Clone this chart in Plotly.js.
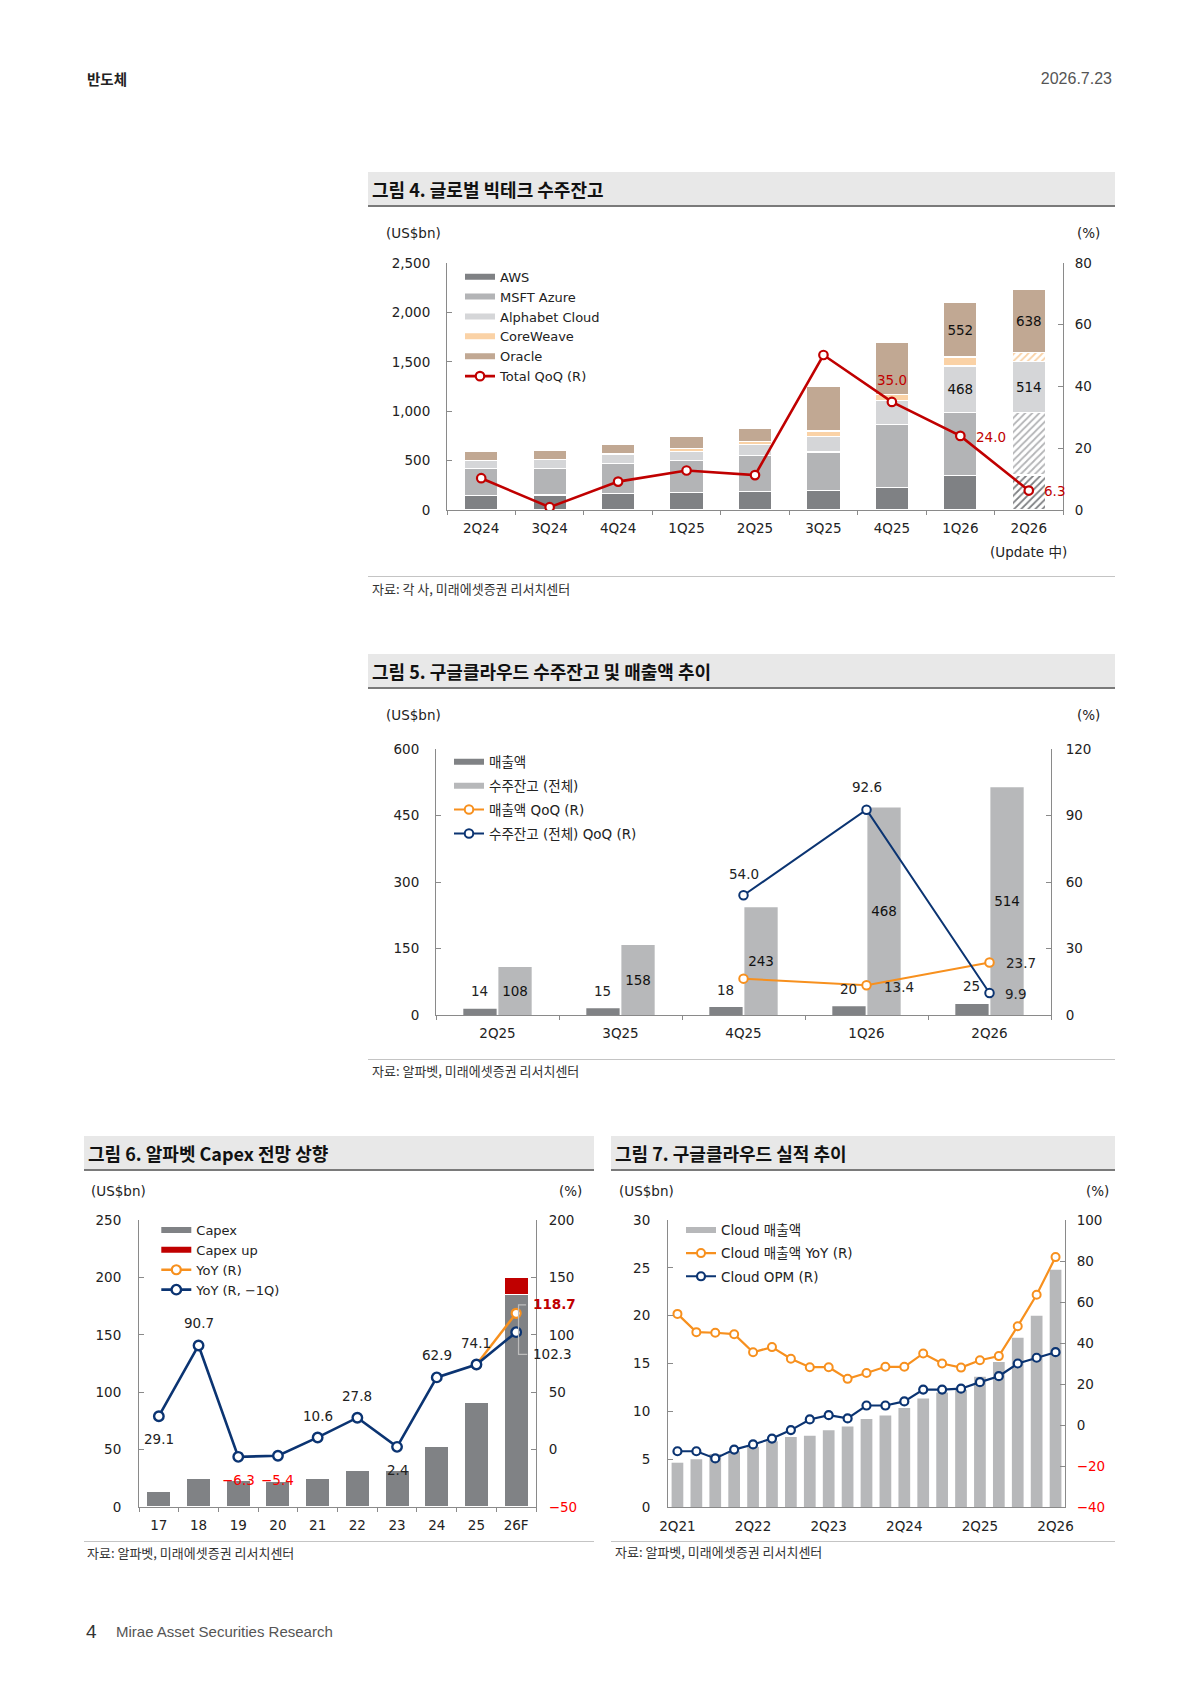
<!DOCTYPE html>
<html>
<head>
<meta charset="utf-8">
<script src="https://cdn.plot.ly/plotly-3.0.1.min.js"></script>
<style>
html,body{margin:0;padding:0;background:#fff;}
body{width:1200px;height:1696px;position:relative;overflow:hidden;font-family:"Noto Sans CJK KR",sans-serif;}
.t{position:absolute;line-height:1;white-space:nowrap;transform:translateY(-50%);}
.tbar{position:absolute;background:#e8e8e8;border-bottom:2px solid #7a7a7a;box-sizing:border-box;height:35px;}
.tbar span{position:absolute;left:4px;top:50%;transform:translateY(-50%);font-weight:700;font-size:18px;color:#111;line-height:1;white-space:nowrap;}
.sline{position:absolute;height:0;border-top:1.5px solid #c4c4c4;}
.src{font-size:13px;color:#333;}
.unit{font-family:"DejaVu Sans","Noto Sans CJK KR",sans-serif;font-size:13.5px;color:#222;}
.chart{position:absolute;}
</style>
</head>
<body>
<div class="t" style="left:87px;top:79px;font-size:14.5px;font-weight:700;color:#222;">반도체</div>
<div class="t" style="right:88px;top:79px;font-family:'Liberation Sans',sans-serif;font-size:16px;color:#555;">2026.7.23</div>

<div class="tbar" style="left:368px;top:172px;width:747px;"><span>그림 4. 글로벌 빅테크 수주잔고</span></div>
<div class="t unit" style="left:386px;top:234px;">(US$bn)</div>
<div class="t unit" style="left:1077px;top:234px;">(%)</div>
<div id="c4" class="chart" style="left:368px;top:207px;width:747px;height:369px;"></div>
<div class="sline" style="left:368px;top:576px;width:747px;"></div>
<div class="t src" style="left:372px;top:588px;">자료: 각 사, 미래에셋증권 리서치센터</div>

<div class="tbar" style="left:368px;top:654px;width:747px;"><span>그림 5. 구글클라우드 수주잔고 및 매출액 추이</span></div>
<div class="t unit" style="left:386px;top:716px;">(US$bn)</div>
<div class="t unit" style="left:1077px;top:716px;">(%)</div>
<div id="c5" class="chart" style="left:368px;top:689px;width:747px;height:370px;"></div>
<div class="sline" style="left:368px;top:1059px;width:747px;"></div>
<div class="t src" style="left:372px;top:1070px;">자료: 알파벳, 미래에셋증권 리서치센터</div>

<div class="tbar" style="left:84px;top:1136px;width:510px;"><span>그림 6. 알파벳 Capex 전망 상향</span></div>
<div class="t unit" style="left:91px;top:1192px;">(US$bn)</div>
<div class="t unit" style="left:559px;top:1192px;">(%)</div>
<div id="c6" class="chart" style="left:84px;top:1171px;width:510px;height:370px;"></div>
<div class="sline" style="left:84px;top:1541px;width:510px;"></div>
<div class="t src" style="left:87px;top:1552px;">자료: 알파벳, 미래에셋증권 리서치센터</div>

<div class="tbar" style="left:611px;top:1136px;width:504px;"><span>그림 7. 구글클라우드 실적 추이</span></div>
<div class="t unit" style="left:619px;top:1192px;">(US$bn)</div>
<div class="t unit" style="left:1086px;top:1192px;">(%)</div>
<div id="c7" class="chart" style="left:611px;top:1171px;width:504px;height:370px;"></div>
<div class="sline" style="left:611px;top:1541px;width:504px;"></div>
<div class="t src" style="left:615px;top:1551px;">자료: 알파벳, 미래에셋증권 리서치센터</div>

<div class="t" style="left:86px;top:1631px;font-family:'Liberation Sans',sans-serif;font-size:19px;color:#333;">4</div>
<div class="t" style="left:116px;top:1631px;font-family:'Liberation Sans',sans-serif;font-size:15px;color:#555;">Mirae Asset Securities Research</div>

<script>
// ---------- Chart 4 data ----------
const c4Cats = ['2Q24','3Q24','4Q24','1Q25','2Q25','3Q25','4Q25','1Q26','2Q26'];
const c4Note = '(Update 中)';
const c4AWS = [146,153,167,180,190,197,231,350,355];
const c4MSFT = [272,265,302,320,364,391,636,640,635];
const c4Alphabet = [85,92,99,95,108,158,243,468,514];
const c4CoreWeave = [0,0,0,24,30,55,60,90,90];
const c4Oracle = [92,95,95,129,138,455,523,552,638];
const c4QoQ = [10.3,0.9,9.2,12.8,11.3,50.2,35.0,24.0,6.3];
const c4EstimateCat = '2Q26';
const c4LeftTicks = [0,500,1000,1500,2000,2500];
const c4RightTicks = [0,20,40,60,80];

// ---------- Chart 5 data ----------
const c5Cats = ['2Q25','3Q25','4Q25','1Q26','2Q26'];
const c5Revenue = [14,15,18,20,25];
const c5Backlog = [108,158,243,468,514];
const c5RevQoQ = [null,null,16.4,13.4,23.7];
const c5BacklogQoQ = [null,null,54.0,92.6,9.9];
const c5LeftTicks = [0,150,300,450,600];
const c5RightTicks = [0,30,60,90,120];

// ---------- Chart 6 data ----------
const c6Years = ['17','18','19','20','21','22','23','24','25','26F'];
const c6Capex = [13.2,25.1,23.5,22.3,24.6,31.5,32.3,52.5,91.4,185.0];
const c6CapexUp = [null,null,null,null,null,null,null,null,null,15.0];
const c6YoY = [null,null,null,null,null,null,null,null,74.1,118.7];
const c6YoYLag = [29.1,90.7,-6.3,-5.4,10.6,27.8,2.4,62.9,74.1,102.3];
const c6LeftTicks = [0,50,100,150,200,250];
const c6RightTicks = [-50,0,50,100,150,200];

// ---------- Chart 7 data ----------
const c7Quarters = ['2Q21','3Q21','4Q21','1Q22','2Q22','3Q22','4Q22','1Q23','2Q23','3Q23','4Q23','1Q24','2Q24','3Q24','4Q24','1Q25','2Q25','3Q25','4Q25','1Q26','2Q26'];
const c7TickQuarters = ['2Q21','2Q22','2Q23','2Q24','2Q25','2Q26'];
const c7Revenue = [4.63,4.99,5.54,5.82,6.28,6.87,7.32,7.45,8.03,8.41,9.19,9.57,10.35,11.35,11.96,12.26,13.62,15.16,17.7,20.0,24.8];
const c7YoY = [54.2,45.3,45.0,44.3,35.5,38.0,32.3,28.2,28.2,22.5,25.4,28.4,28.4,34.9,30.0,28.0,31.6,33.6,48.2,63.5,81.9];
const c7OPM = [-12.8,-12.8,-16.3,-12.0,-9.5,-6.6,-2.5,2.7,4.8,3.2,9.5,9.5,11.5,17.3,17.3,17.7,20.9,23.8,30.0,32.8,35.5];
const c7LeftTicks = [0,5,10,15,20,25,30];
const c7RightTicks = [-40,-20,0,20,40,60,80,100];

// ---------- helpers ----------
const FONT = '"DejaVu Sans", "Noto Sans CJK KR", sans-serif';
const AX = '#8a8a8a';
const TXT = '#222';
const ORANGE = '#f7901e';
const NAVY = '#0b3472';
const MINUS = '\u2212';
const fmt1 = v => (v < 0 ? MINUS : '') + Math.abs(v).toFixed(1);
const redTicks = vals => vals.map(v => v < 0 ? '<span style="color:#ff0000">' + MINUS + Math.abs(v) + '</span>' : String(v));
const catRange = cats => [-0.5, cats.length - 0.5];

function axis(extra) {
  return Object.assign({showgrid:false, zeroline:false, showline:true, linecolor:AX, linewidth:1,
    tickcolor:AX, tickfont:{family:FONT, size:13.5, color:TXT}, fixedrange:true}, extra);
}
function legendAt(px, py, W, H, extra) {
  return Object.assign({xref:'container', yref:'container', x:px/W, y:1-py/H, xanchor:'left', yanchor:'top',
    bgcolor:'rgba(0,0,0,0)', borderwidth:0, font:{family:FONT, size:13, color:TXT}, itemclick:false, itemdoubleclick:false}, extra);
}
function legendBar(name, color, rank, grp) {
  const t = {type:'scatter', x:[null], y:[null], mode:'lines', line:{color:color, width:6}, name:name, legendrank:rank, hoverinfo:'skip'};
  if (grp) t.legendgroup = grp;
  return t;
}
function lab(x, y, text, yref, o) {
  return Object.assign({x:x, y:y, xref:'x', yref:yref, text:text, showarrow:false,
    font:{family:FONT, size:13.5, color:TXT}}, o || {});
}
const cfg = {staticPlot:true, displayModeBar:false};

// ---------- Chart 4 ----------
(function(){
  const W = 747, H = 369;
  const series = [
    {name:'AWS', vals:c4AWS, color:'#7f8184', est:true},
    {name:'MSFT Azure', vals:c4MSFT, color:'#b3b4b6', est:true},
    {name:'Alphabet Cloud', vals:c4Alphabet, color:'#d5d6d8', est:false, label:true},
    {name:'CoreWeave', vals:c4CoreWeave, color:'#fad2a6', est:true},
    {name:'Oracle', vals:c4Oracle, color:'#c1a893', est:false, label:true}
  ];
  const traces = [];
  series.forEach(s => {
    traces.push({type:'bar', x:c4Cats, y:s.vals, showlegend:false, hoverinfo:'skip',
      marker:{color:s.color, line:{color:'#ffffff', width:1.3},
        pattern:{shape:c4Cats.map(c => (s.est && c === c4EstimateCat) ? '/' : ''), fgcolor:s.color, size:5, solidity:0.35}},
      text: s.label ? s.vals.map((v,i) => i >= 7 ? String(v) : '') : null,
      textposition: s.label ? 'inside' : 'none', insidetextanchor:'middle', textangle:0, constraintext:'none',
      insidetextfont:{family:FONT, size:13.5, color:'#111'}});
  });
  series.forEach((s,i) => traces.push(legendBar(s.name, s.color, i+1)));
  traces.push({type:'scatter', x:c4Cats, y:c4QoQ, yaxis:'y2', mode:'lines+markers', name:'Total QoQ (R)', legendrank:6,
    line:{color:'#c00000', width:2.6}, marker:{size:8.5, color:'#ffffff', line:{color:'#c00000', width:2.2}}, hoverinfo:'skip'});
  const red = {family:FONT, size:13.5, color:'#c00000'};
  const ann = [
    lab(6, c4QoQ[6], fmt1(c4QoQ[6]), 'y2', {yshift:22, font:red}),
    lab(7, c4QoQ[7], fmt1(c4QoQ[7]), 'y2', {xanchor:'left', xshift:14, yshift:-1, font:red}),
    lab(8, c4QoQ[8], fmt1(c4QoQ[8]), 'y2', {xanchor:'left', xshift:13, yshift:0, font:red}),
    {x:8, xref:'x', y:0, yref:'paper', yanchor:'middle', yshift:-42, text:c4Note, showarrow:false, font:{family:FONT, size:13.5, color:TXT}}
  ];
  const layout = {width:W, height:H, margin:{l:79, r:52, t:56, b:66, pad:0, autoexpand:false},
    paper_bgcolor:'rgba(0,0,0,0)', plot_bgcolor:'rgba(0,0,0,0)', barmode:'stack', bargap:0.51,
    showlegend:true, legend:legendAt(92, 54.7, W, H, {traceorder:'normal'}),
    xaxis:axis({type:'category', categoryorder:'array', categoryarray:c4Cats, range:catRange(c4Cats), tickmode:'array', tickvals:c4Cats,
      tickangle:0, ticks:'outside', ticklen:4, tickson:'boundaries', ticklabelstandoff:6}),
    yaxis:axis({range:[0,2500], tickmode:'array', tickvals:c4LeftTicks, tickformat:',d', ticks:'inside', ticklen:5, ticklabelstandoff:13}),
    yaxis2:axis({overlaying:'y', side:'right', range:[0,80], tickmode:'array', tickvals:c4RightTicks, ticks:'inside', ticklen:5, ticklabelstandoff:8}),
    annotations:ann};
  Plotly.newPlot('c4', traces, layout, cfg);
})();

// ---------- Chart 5 ----------
(function(){
  const W = 747, H = 370;
  const dark = '#808285', light = '#b7b8ba';
  const traces = [
    {type:'bar', x:c5Cats, y:c5Revenue, showlegend:false, hoverinfo:'skip', marker:{color:dark}},
    {type:'bar', x:c5Cats, y:c5Backlog, showlegend:false, hoverinfo:'skip', marker:{color:light},
      text:c5Backlog.map(String), textposition:'inside', insidetextanchor:'middle', textangle:0, constraintext:'none',
      insidetextfont:{family:FONT, size:13.5, color:'#111'}},
    legendBar('매출액', dark, 1, 'g1'),
    legendBar('수주잔고 (전체)', light, 2, 'g2'),
    {type:'scatter', x:c5Cats, y:c5RevQoQ, yaxis:'y2', mode:'lines+markers', name:'매출액 QoQ (R)', legendrank:3, legendgroup:'g3',
      line:{color:ORANGE, width:2}, marker:{size:8.5, color:'#fff', line:{color:ORANGE, width:2}}, hoverinfo:'skip'},
    {type:'scatter', x:c5Cats, y:c5BacklogQoQ, yaxis:'y2', mode:'lines+markers', name:'수주잔고 (전체) QoQ (R)', legendrank:4, legendgroup:'g4',
      line:{color:NAVY, width:2}, marker:{size:8.5, color:'#fff', line:{color:NAVY, width:2}}, hoverinfo:'skip'}
  ];
  const ann = [];
  c5Revenue.forEach((v,i) => ann.push(lab(i, v, String(v), 'y', {xshift:-17.6, yshift:17.5})));
  ann.push(lab(2, c5BacklogQoQ[2], fmt1(c5BacklogQoQ[2]), 'y2', {yshift:21.6}));
  ann.push(lab(3, c5BacklogQoQ[3], fmt1(c5BacklogQoQ[3]), 'y2', {yshift:22.7}));
  ann.push(lab(4, c5BacklogQoQ[4], fmt1(c5BacklogQoQ[4]), 'y2', {xanchor:'left', xshift:13, yshift:-1}));
  ann.push(lab(3, c5RevQoQ[3], fmt1(c5RevQoQ[3]), 'y2', {xanchor:'left', xshift:15, yshift:-2}));
  ann.push(lab(4, c5RevQoQ[4], fmt1(c5RevQoQ[4]), 'y2', {xanchor:'left', xshift:14, yshift:-1}));
  const layout = {width:W, height:H, margin:{l:68, r:64, t:60.3, b:43.7, pad:0, autoexpand:false},
    paper_bgcolor:'rgba(0,0,0,0)', plot_bgcolor:'rgba(0,0,0,0)', barmode:'group', bargap:0.43, bargroupgap:0.05,
    showlegend:true, legend:legendAt(81, 57.4, W, H, {traceorder:'grouped', tracegroupgap:3.4, font:{family:FONT, size:13.5, color:TXT}}),
    xaxis:axis({type:'category', categoryorder:'array', categoryarray:c5Cats, range:catRange(c5Cats), tickmode:'array', tickvals:c5Cats,
      tickangle:0, ticks:'outside', ticklen:4, tickson:'boundaries', ticklabelstandoff:6}),
    yaxis:axis({range:[0,600], tickmode:'array', tickvals:c5LeftTicks, ticks:'inside', ticklen:5, ticklabelstandoff:13}),
    yaxis2:axis({overlaying:'y', side:'right', range:[0,120], tickmode:'array', tickvals:c5RightTicks, ticks:'inside', ticklen:5, ticklabelstandoff:11}),
    annotations:ann};
  Plotly.newPlot('c5', traces, layout, cfg);
})();

// ---------- Chart 6 ----------
(function(){
  const W = 510, H = 370;
  const gray = '#808285', red = '#c00000';
  const traces = [
    {type:'bar', x:c6Years, y:c6Capex, showlegend:false, hoverinfo:'skip', marker:{color:gray, line:{color:'#fff', width:1.2}}},
    {type:'bar', x:c6Years, y:c6CapexUp, showlegend:false, hoverinfo:'skip', marker:{color:red, line:{color:'#fff', width:1.2}}},
    legendBar('Capex', gray, 1),
    legendBar('Capex up', red, 2),
    {type:'scatter', x:c6Years, y:c6YoY, yaxis:'y2', mode:'lines+markers', name:'YoY (R)', legendrank:3,
      line:{color:ORANGE, width:2.4}, marker:{size:9, color:'#fff', line:{color:ORANGE, width:2.2}}, hoverinfo:'skip'},
    {type:'scatter', x:c6Years, y:c6YoYLag, yaxis:'y2', mode:'lines+markers', name:'YoY (R, ' + MINUS + '1Q)', legendrank:4,
      line:{color:NAVY, width:2.6}, marker:{size:9.5, color:'#fff', line:{color:NAVY, width:2.4}}, hoverinfo:'skip'}
  ];
  const pos = [
    {yshift:-23.3}, {yshift:22}, {yshift:-23.4}, {yshift:-24.4}, {yshift:21},
    {yshift:21.8}, {yshift:-23.4}, {yshift:22.3}, {yshift:22}, {xanchor:'left', xshift:14.5, yshift:-22}
  ];
  const ann = c6YoYLag.map((v,i) => {
    const p = pos[i];
    const o = {yshift:p.yshift};
    if (p.xanchor) { o.xanchor = p.xanchor; o.xshift = p.xshift; }
    if (v < 0) o.font = {family:FONT, size:13.5, color:'#ff0000'};
    return lab(i, v, fmt1(v), 'y2', o);
  });
  ann.push(lab(9, c6YoY[9], fmt1(c6YoY[9]), 'y2', {xanchor:'left', xshift:15, yshift:9,
    font:{family:FONT, size:13.5, color:'#c00000', weight:600}}));
  const layout = {width:W, height:H, margin:{l:55, r:58.3, t:49, b:34.3, pad:0, autoexpand:false},
    paper_bgcolor:'rgba(0,0,0,0)', plot_bgcolor:'rgba(0,0,0,0)', barmode:'stack', bargap:0.39,
    showlegend:true, legend:legendAt(72.3, 44, W, H, {traceorder:'normal'}),
    xaxis:axis({type:'category', categoryorder:'array', categoryarray:c6Years, range:catRange(c6Years), tickmode:'array', tickvals:c6Years,
      tickangle:0, ticks:'outside', ticklen:4, tickson:'boundaries', ticklabelstandoff:6}),
    yaxis:axis({range:[0,250], tickmode:'array', tickvals:c6LeftTicks, ticks:'inside', ticklen:5, ticklabelstandoff:14}),
    yaxis2:axis({overlaying:'y', side:'right', range:[-50,200], tickmode:'array', tickvals:c6RightTicks, ticktext:redTicks(c6RightTicks),
      ticks:'inside', ticklen:5, ticklabelstandoff:9}),
    shapes:[{type:'path', xref:'x', yref:'y2', path:'M9.25,126 L9.06,126 L9.06,83 L9.28,83', line:{color:'#bdbdbd', width:1.2}}],
    annotations:ann};
  Plotly.newPlot('c6', traces, layout, cfg);
})();

// ---------- Chart 7 ----------
(function(){
  const W = 504, H = 370;
  const light = '#b7b8ba';
  const traces = [
    {type:'bar', x:c7Quarters, y:c7Revenue, showlegend:false, hoverinfo:'skip', marker:{color:light}},
    legendBar('Cloud 매출액', light, 1, 'g1'),
    {type:'scatter', x:c7Quarters, y:c7YoY, yaxis:'y2', mode:'lines+markers', name:'Cloud 매출액 YoY (R)', legendrank:2, legendgroup:'g2',
      line:{color:ORANGE, width:2.2}, marker:{size:8, color:'#fff', line:{color:ORANGE, width:2}}, hoverinfo:'skip'},
    {type:'scatter', x:c7Quarters, y:c7OPM, yaxis:'y2', mode:'lines+markers', name:'Cloud OPM (R)', legendrank:3, legendgroup:'g3',
      line:{color:NAVY, width:2.2}, marker:{size:8, color:'#fff', line:{color:NAVY, width:2.2}}, hoverinfo:'skip'}
  ];
  const layout = {width:W, height:H, margin:{l:56.7, r:50, t:49, b:34.3, pad:0, autoexpand:false},
    paper_bgcolor:'rgba(0,0,0,0)', plot_bgcolor:'rgba(0,0,0,0)', bargap:0.38,
    showlegend:true, legend:legendAt(70, 43.7, W, H, {traceorder:'grouped', tracegroupgap:2.6, font:{family:FONT, size:13.5, color:TXT}}),
    xaxis:axis({type:'category', categoryorder:'array', categoryarray:c7Quarters, range:catRange(c7Quarters), tickmode:'array', tickvals:c7TickQuarters,
      tickangle:0, ticks:'', ticklabelstandoff:7}),
    yaxis:axis({range:[0,30], tickmode:'array', tickvals:c7LeftTicks, ticks:'inside', ticklen:5, ticklabelstandoff:14}),
    yaxis2:axis({overlaying:'y', side:'right', range:[-40,100], tickmode:'array', tickvals:c7RightTicks, ticktext:redTicks(c7RightTicks),
      ticks:'inside', ticklen:5, ticklabelstandoff:8}),
  };
  Plotly.newPlot('c7', traces, layout, cfg);
})();
</script>
</body>
</html>
